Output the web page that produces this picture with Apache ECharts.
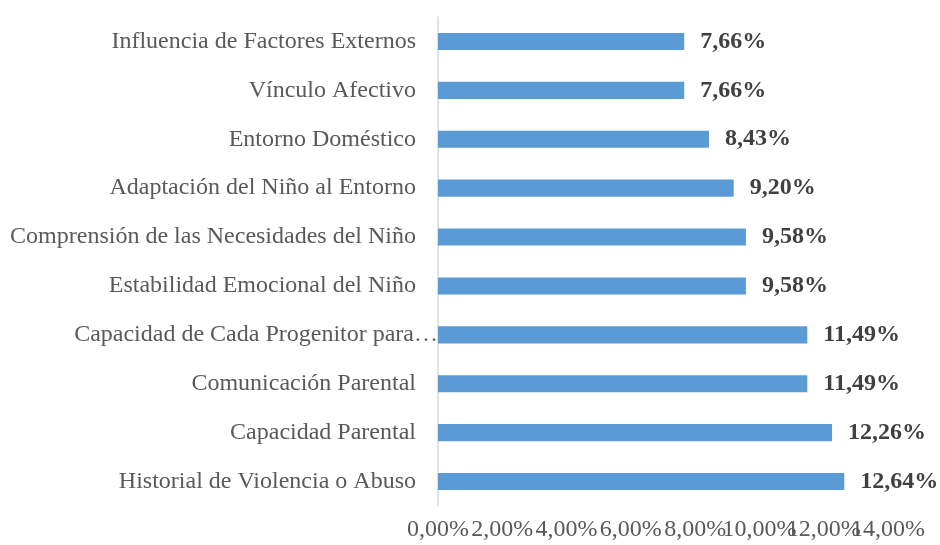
<!DOCTYPE html>
<html>
<head>
<meta charset="UTF-8">
<title>Factores</title>
<script src="https://cdn.jsdelivr.net/npm/echarts@6/dist/echarts.min.js"></script>
<style>
	html, body { margin: 0; padding: 0; background: #fff; }
	#chart { width: 940px; height: 545px; }
</style>
</head>
<body>
<div id="chart"></div>
<script>
	// categorias, de arriba hacia abajo
	var categorias = [
		"Influencia de Factores Externos",
		"Vínculo Afectivo",
		"Entorno Doméstico",
		"Adaptación del Niño al Entorno",
		"Comprensión de las Necesidades del Niño",
		"Estabilidad Emocional del Niño",
		"Capacidad de Cada Progenitor para…",
		"Comunicación Parental",
		"Capacidad Parental",
		"Historial de Violencia o Abuso"
	];
	var valores = [7.66, 7.66, 8.43, 9.20, 9.58, 9.58, 11.49, 11.49, 12.26, 12.64];
	var ticks = [0, 2, 4, 6, 8, 10, 12, 14];

	function pct(v) {
		return v.toFixed(2).replace(".", ",") + "%";
	}

	// la etiqueta recortada llega hasta el eje
	var catData = categorias.map(function (c) {
		if (c.indexOf("…") >= 0) {
			return { value: c, textStyle: { padding: [0, -22, 0, 0] } };
		}
		return c;
	});

	// las etiquetas del eje X se solapan: se reparten en dos ejes iguales
	function ejeX(par) {
		return {
			type: "value",
			position: "bottom",
			min: ticks[0],
			max: ticks[ticks.length - 1],
			interval: 2,
			axisLine: { show: false },
			axisTick: { show: false },
			splitLine: { show: false },
			axisLabel: {
				color: "#595959",
				fontSize: 24,
				margin: 12,
				showMinLabel: true,
				showMaxLabel: true,
				formatter: function (v) {
					return (Math.round(v / 2) % 2 === par) ? pct(v) : "";
				}
			}
		};
	}

	var chart = echarts.init(document.getElementById("chart"));
	chart.setOption({
		animation: false,
		textStyle: { fontFamily: "Liberation Serif" },
		grid: { left: 438, right: 52, top: 17, bottom: 39, containLabel: false },
		xAxis: [ejeX(0), ejeX(1)],
		yAxis: {
			type: "category",
			inverse: true,
			data: catData,
			axisLine: { show: true, lineStyle: { color: "#d9d9d9", width: 1.5 } },
			axisTick: { show: false },
			axisLabel: { color: "#595959", fontSize: 24, margin: 22, interval: 0 }
		},
		series: [{
			type: "bar",
			data: valores,
			barWidth: "35%",
			itemStyle: { color: "#5b9bd5" },
			label: {
				show: true,
				position: "right",
				distance: 16,
				color: "#404040",
				fontSize: 24,
				fontWeight: "bold",
				formatter: function (p) { return pct(p.value); }
			}
		}]
	});
</script>
</body>
</html>
